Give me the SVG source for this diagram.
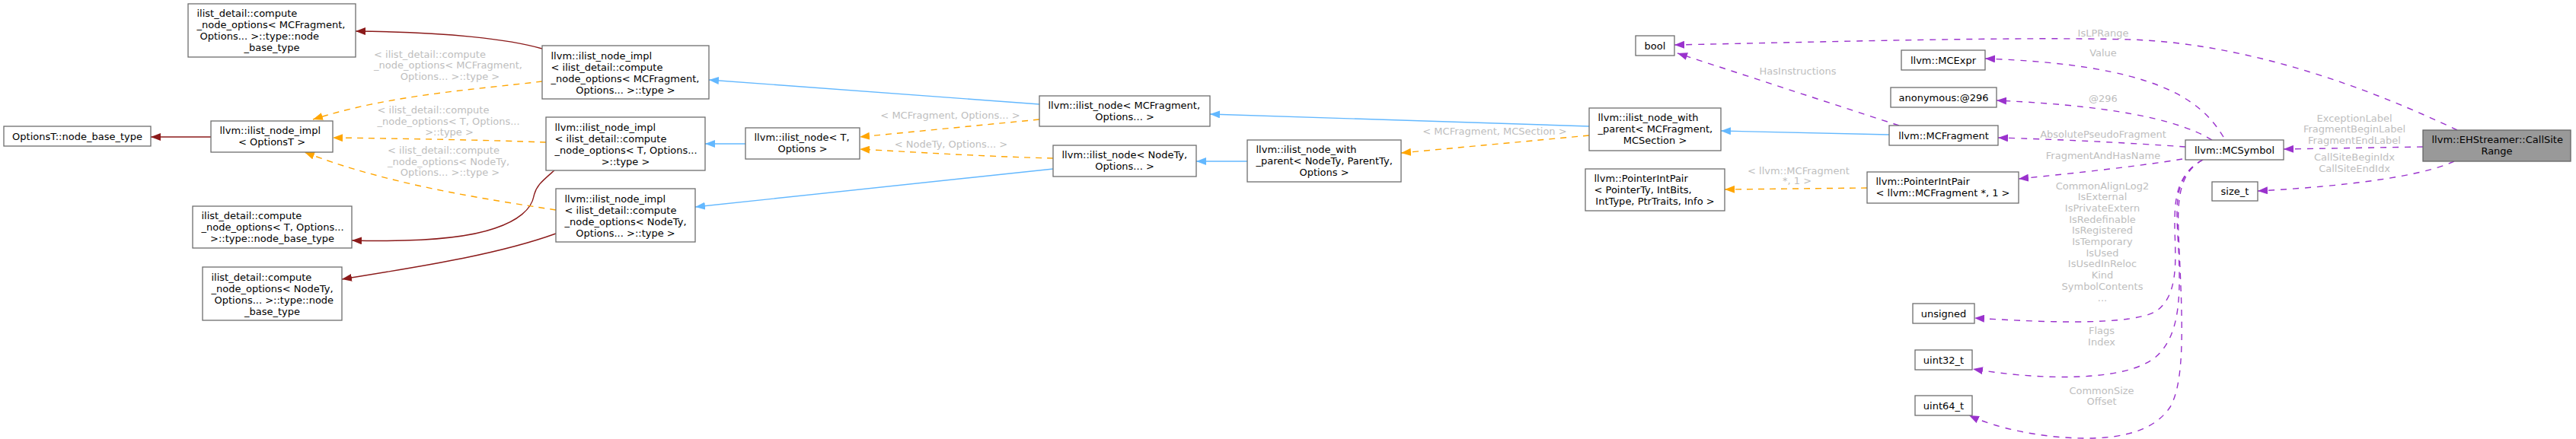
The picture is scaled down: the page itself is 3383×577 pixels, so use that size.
<svg xmlns="http://www.w3.org/2000/svg" width="3383" height="577" viewBox="0 0 3383 577">
<style>
text{font-family:"DejaVu Sans","Liberation Sans",sans-serif;font-size:13px;fill:#000}
.c{text-anchor:middle}
.lbl text{fill:#bebebe}
.node rect{fill:#fff;stroke:#6e6e6e;stroke-width:1.3}
.node.focus rect{fill:#999;stroke:#666}
.e{fill:none;stroke-width:1.4}
.red{stroke:#8b1a1a;marker-end:url(#mr)}
.blue{stroke:#63b8ff;marker-end:url(#mb)}
.orange{stroke:#ffa500;stroke-dasharray:8,7;marker-end:url(#mo)}
.purple{stroke:#9a32cd;stroke-dasharray:8,8;marker-end:url(#mp)}
</style>
<defs>
<marker id="mr" viewBox="0 0 13 10" refX="13" refY="5" markerWidth="13" markerHeight="10" markerUnits="userSpaceOnUse" orient="auto"><path d="M0,0L13,5L0,10z" fill="#8b1a1a"/></marker>
<marker id="mb" viewBox="0 0 13 10" refX="13" refY="5" markerWidth="13" markerHeight="10" markerUnits="userSpaceOnUse" orient="auto"><path d="M0,0L13,5L0,10z" fill="#63b8ff"/></marker>
<marker id="mo" viewBox="0 0 13 10" refX="13" refY="5" markerWidth="13" markerHeight="10" markerUnits="userSpaceOnUse" orient="auto"><path d="M0,0L13,5L0,10z" fill="#ffa500"/></marker>
<marker id="mp" viewBox="0 0 13 10" refX="13" refY="5" markerWidth="13" markerHeight="10" markerUnits="userSpaceOnUse" orient="auto"><path d="M0,0L13,5L0,10z" fill="#9a32cd"/></marker>
</defs>
<rect width="3383" height="577" fill="#fff"/>
<g id="edges">
<path class="e red" d="M712,64 C670,52 590,42 467,41"/>
<path class="e red" d="M277,180 L198,180"/>
<path class="e red" d="M728,224 C712,238 704,244 701,258 C698,275 680,290 650,300 C610,314 540,318 462,316"/>
<path class="e red" d="M730,307 C650,336 540,352 449,367"/>
<path class="e blue" d="M1365,137 L931,105"/>
<path class="e blue" d="M979,189 L926,189"/>
<path class="e blue" d="M1383,222 L913,272"/>
<path class="e blue" d="M1638,212 L1571,212"/>
<path class="e blue" d="M2087,166 L1589,150"/>
<path class="e blue" d="M2481,177 L2260,172"/>
<path class="e orange" d="M712,107 C620,118 510,125 411,157"/>
<path class="e orange" d="M717,187 C640,184 520,182 437,181"/>
<path class="e orange" d="M730,276 C640,262 510,243 400,200"/>
<path class="e orange" d="M1365,157 L1129,180"/>
<path class="e orange" d="M1383,208 C1300,206 1200,200 1129,196"/>
<path class="e orange" d="M2087,178 L1840,201"/>
<path class="e orange" d="M2452,247 L2265,249"/>
<path class="e purple" d="M3227,171 C3120,120 2960,58 2800,52 C2650,48 2400,55 2199,59"/>
<path class="e purple" d="M2920,180 C2890,130 2830,85 2607,77"/>
<path class="e purple" d="M2905,184 C2870,163 2800,140 2622,132"/>
<path class="e purple" d="M2870,193 C2800,188 2700,183 2624,181"/>
<path class="e purple" d="M2866,209 C2800,220 2700,230 2651,235"/>
<path class="e purple" d="M2494,165 L2203,70"/>
<path class="e purple" d="M2893,210 C2855,230 2856,270 2856,300 C2857,340 2862,390 2830,410 C2790,430 2660,422 2593,418"/>
<path class="e purple" d="M2893,210 C2855,230 2858,270 2860,310 C2864,380 2866,440 2830,470 C2790,502 2680,500 2591,485"/>
<path class="e purple" d="M2893,210 C2855,230 2860,280 2862,330 C2866,420 2870,500 2850,535 C2830,565 2790,576 2740,576 C2680,576 2620,562 2586,546"/>
<path class="e purple" d="M3182,193 L2999,196"/>
<path class="e purple" d="M3223,212 C3180,232 3080,245 2965,251"/>
<g class="lbl">
<text x="491" y="75.5">&lt; ilist_detail::compute</text>
<text x="491" y="89.5">_node_options&lt; MCFragment,</text>
<text class="c" x="591" y="104.5">Options... &gt;::type &gt;</text>
<text x="495.5" y="148.5">&lt; ilist_detail::compute</text>
<text x="495.5" y="164">_node_options&lt; T, Options...</text>
<text class="c" x="590" y="178">&gt;::type &gt;</text>
<text x="509" y="201.5">&lt; ilist_detail::compute</text>
<text x="509" y="216.5">_node_options&lt; NodeTy,</text>
<text class="c" x="591" y="230.5">Options... &gt;::type &gt;</text>
<text class="c" x="1248" y="155.5">&lt; MCFragment, Options... &gt;</text>
<text class="c" x="1249" y="193.5">&lt; NodeTy, Options... &gt;</text>
<text class="c" x="1963" y="176.5">&lt; MCFragment, MCSection &gt;</text>
<text x="2295" y="228.5">&lt; llvm::MCFragment</text>
<text class="c" x="2360" y="241.5">*, 1 &gt;</text>
<text class="c" x="2361" y="97.5">HasInstructions</text>
<text class="c" x="2762" y="47.5">IsLPRange</text>
<text class="c" x="2762" y="73.5">Value</text>
<text class="c" x="2762" y="133.5">@296</text>
<text class="c" x="2762" y="180.5">AbsolutePseudoFragment</text>
<text class="c" x="2762" y="208.5">FragmentAndHasName</text>
<text class="c" x="3092" y="159.5">ExceptionLabel</text>
<text class="c" x="3092" y="173.5">FragmentBeginLabel</text>
<text class="c" x="3092" y="188.5">FragmentEndLabel</text>
<text class="c" x="3092" y="210.5">CallSiteBeginIdx</text>
<text class="c" x="3092" y="225.5">CallSiteEndIdx</text>
<text class="c" x="2761" y="248.5">CommonAlignLog2</text>
<text class="c" x="2761" y="263">IsExternal</text>
<text class="c" x="2761" y="277.5">IsPrivateExtern</text>
<text class="c" x="2761" y="292.5">IsRedefinable</text>
<text class="c" x="2761" y="307">IsRegistered</text>
<text class="c" x="2761" y="321.5">IsTemporary</text>
<text class="c" x="2761" y="336.5">IsUsed</text>
<text class="c" x="2761" y="351">IsUsedInReloc</text>
<text class="c" x="2761" y="365.5">Kind</text>
<text class="c" x="2761" y="381">SymbolContents</text>
<text class="c" x="2761" y="396">...</text>
<text class="c" x="2760" y="438.5">Flags</text>
<text class="c" x="2760" y="453.5">Index</text>
<text class="c" x="2760" y="517.5">CommonSize</text>
<text class="c" x="2760" y="531.5">Offset</text>
</g>
</g>
<g id="n_cnoMCFbase" class="node"><rect x="247" y="5" width="220" height="70"/>
<text x="258.5" y="21.5">ilist_detail::compute</text><text x="258.5" y="36.5">_node_options&lt; MCFragment,</text><text x="262.5" y="51.5">Options... &gt;::type::node</text><text class="c" x="357" y="66.5">_base_type</text></g>
<g id="n_optbase" class="node"><rect x="5" y="166" width="193" height="26"/><text class="c" x="101.5" y="183.5">OptionsT::node_base_type</text></g>
<g id="n_implOpt" class="node"><rect x="277" y="159" width="160" height="41"/><text x="288.5" y="176">llvm::ilist_node_impl</text><text class="c" x="357" y="191">&lt; OptionsT &gt;</text></g>
<g id="n_cnoTbase" class="node"><rect x="253" y="271" width="209" height="55"/><text x="264.5" y="288">ilist_detail::compute</text><text x="264.5" y="303">_node_options&lt; T, Options...</text><text class="c" x="357.5" y="318">&gt;::type::node_base_type</text></g>
<g id="n_cnoNbase" class="node"><rect x="266" y="351" width="183" height="70"/><text x="277.5" y="368.5">ilist_detail::compute</text><text x="277.5" y="383.5">_node_options&lt; NodeTy,</text><text x="281.5" y="398.5">Options... &gt;::type::node</text><text class="c" x="357.5" y="413.5">_base_type</text></g>
<g id="n_implMCF" class="node"><rect x="712" y="60" width="219" height="70"/><text x="723.5" y="77.5">llvm::ilist_node_impl</text><text x="723.5" y="92.5">&lt; ilist_detail::compute</text><text x="723.5" y="107.5">_node_options&lt; MCFragment,</text><text class="c" x="821.5" y="122.5">Options... &gt;::type &gt;</text></g>
<g id="n_implT" class="node"><rect x="717" y="154" width="209" height="70"/><text x="728.5" y="171.5">llvm::ilist_node_impl</text><text x="728.5" y="186.5">&lt; ilist_detail::compute</text><text x="728.5" y="201.5">_node_options&lt; T, Options...</text><text class="c" x="821.5" y="216.5">&gt;::type &gt;</text></g>
<g id="n_implN" class="node"><rect x="730" y="248" width="183" height="70"/><text x="741.5" y="265.5">llvm::ilist_node_impl</text><text x="741.5" y="280.5">&lt; ilist_detail::compute</text><text x="741.5" y="295.5">_node_options&lt; NodeTy,</text><text class="c" x="821.5" y="310.5">Options... &gt;::type &gt;</text></g>
<g id="n_nodeT" class="node"><rect x="979" y="168" width="150" height="41"/><text x="990.5" y="185">llvm::ilist_node&lt; T,</text><text class="c" x="1054" y="200">Options &gt;</text></g>
<g id="n_nodeMCF" class="node"><rect x="1365" y="126" width="224" height="40"/><text x="1376.5" y="142.5">llvm::ilist_node&lt; MCFragment,</text><text class="c" x="1477" y="157.5">Options... &gt;</text></g>
<g id="n_nodeN" class="node"><rect x="1383" y="191" width="188" height="41"/><text x="1394.5" y="208">llvm::ilist_node&lt; NodeTy,</text><text class="c" x="1477" y="223">Options... &gt;</text></g>
<g id="n_nwpN" class="node"><rect x="1638" y="184" width="202" height="55"/><text x="1649.5" y="200.5">llvm::ilist_node_with</text><text x="1649.5" y="215.5">_parent&lt; NodeTy, ParentTy,</text><text class="c" x="1739" y="230.5">Options &gt;</text></g>
<g id="n_nwpMCF" class="node"><rect x="2087" y="142" width="173" height="56"/><text x="2098.5" y="159">llvm::ilist_node_with</text><text x="2098.5" y="174">_parent&lt; MCFragment,</text><text class="c" x="2173.5" y="189">MCSection &gt;</text></g>
<g id="n_pipGen" class="node"><rect x="2082" y="222" width="183" height="55"/><text x="2093.5" y="238.5">llvm::PointerIntPair</text><text x="2093.5" y="253.5">&lt; PointerTy, IntBits,</text><text class="c" x="2173.5" y="268.5">IntType, PtrTraits, Info &gt;</text></g>
<g id="n_bool" class="node"><rect x="2148" y="47" width="51" height="26"/><text class="c" x="2173.5" y="64.5">bool</text></g>
<g id="n_mcexpr" class="node"><rect x="2497" y="66" width="110" height="26"/><text class="c" x="2552" y="83.5">llvm::MCExpr</text></g>
<g id="n_anon" class="node"><rect x="2483" y="115" width="139" height="26"/><text class="c" x="2552.5" y="132.5">anonymous:@296</text></g>
<g id="n_mcfrag" class="node"><rect x="2481" y="165" width="143" height="26"/><text class="c" x="2552.5" y="182.5">llvm::MCFragment</text></g>
<g id="n_pipMCF" class="node"><rect x="2452" y="226" width="199" height="41"/><text x="2463.5" y="243">llvm::PointerIntPair</text><text class="c" x="2551.5" y="258">&lt; llvm::MCFragment *, 1 &gt;</text></g>
<g id="n_unsigned" class="node"><rect x="2512" y="399" width="81" height="26"/><text class="c" x="2552.5" y="416.5">unsigned</text></g>
<g id="n_u32" class="node"><rect x="2515" y="460" width="75" height="26"/><text class="c" x="2552.5" y="477.5">uint32_t</text></g>
<g id="n_u64" class="node"><rect x="2515" y="520" width="75" height="26"/><text class="c" x="2552.5" y="537.5">uint64_t</text></g>
<g id="n_mcsym" class="node"><rect x="2870" y="184" width="129" height="26"/><text class="c" x="2934.5" y="201.5">llvm::MCSymbol</text></g>
<g id="n_sizet" class="node"><rect x="2905" y="239" width="60" height="25"/><text class="c" x="2935" y="256">size_t</text></g>
<g id="n_csr" class="node focus"><rect x="3182" y="171" width="194" height="41"/><text x="3193.5" y="188">llvm::EHStreamer::CallSite</text><text class="c" x="3279" y="203">Range</text></g>
</svg>
